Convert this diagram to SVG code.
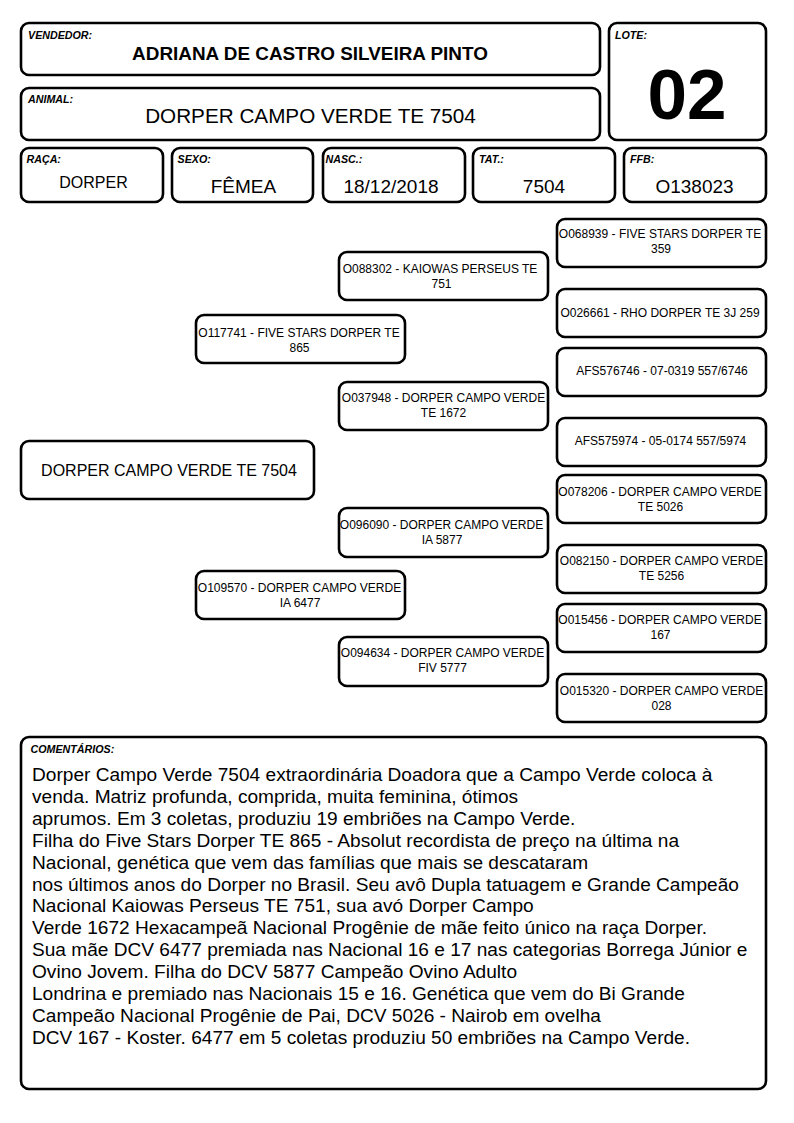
<svg xmlns="http://www.w3.org/2000/svg" width="794" height="1123" viewBox="0 0 794 1123">
<style>
.box{fill:#fff;stroke:#000;stroke-width:2.6}
text{font-family:"Liberation Sans",Arial,sans-serif;fill:#000}
.lbl{font-size:10.7px;font-weight:bold;font-style:italic}
.val{font-size:19px;text-anchor:middle}
.ped{font-size:12px;text-anchor:middle}
.com{font-size:19.1px}
</style>
<rect width="794" height="1123" fill="#fff"/>
<g id="vendedor">
<rect class="box" x="21" y="23" width="579" height="52" rx="8"/>
<text class="lbl" x="28" y="39">VENDEDOR:</text>
<text x="310" y="60" font-size="18.9" font-weight="bold" text-anchor="middle">ADRIANA DE CASTRO SILVEIRA PINTO</text>
</g>
<g id="lote">
<rect class="box" x="609" y="23" width="157" height="117" rx="8"/>
<text class="lbl" x="615" y="39">LOTE:</text>
<text x="687" y="119" font-size="71" font-weight="bold" text-anchor="middle">02</text>
</g>
<g id="animal">
<rect class="box" x="21" y="88" width="579" height="52" rx="8"/>
<text class="lbl" x="28" y="103">ANIMAL:</text>
<text x="310.5" y="123" font-size="20.7" text-anchor="middle">DORPER CAMPO VERDE TE 7504</text>
</g>
<g id="raca">
<rect class="box" x="21" y="148" width="142" height="54" rx="8"/>
<text class="lbl" x="26.5" y="163">RAÇA:</text>
<text x="93.5" y="188" font-size="16" text-anchor="middle">DORPER</text>
</g>
<g id="sexo">
<rect class="box" x="172" y="148" width="141" height="54" rx="8"/>
<text class="lbl" x="177.5" y="163">SEXO:</text>
<text class="val" x="243.5" y="192.5">FÊMEA</text>
</g>
<g id="nasc">
<rect class="box" x="323" y="148" width="142" height="54" rx="8"/>
<text class="lbl" x="325.5" y="163">NASC.:</text>
<text class="val" x="391" y="192.5">18/12/2018</text>
</g>
<g id="tat">
<rect class="box" x="473" y="148" width="142" height="54" rx="8"/>
<text class="lbl" x="479" y="163">TAT.:</text>
<text class="val" x="544" y="192.5">7504</text>
</g>
<g id="ffb">
<rect class="box" x="624" y="148" width="142" height="54" rx="8"/>
<text class="lbl" x="630" y="163">FFB:</text>
<text class="val" x="694.5" y="192.5">O138023</text>
</g>
<g id="connectors"></g>
<g id="animal-main">
<rect class="box" x="21" y="441" width="293" height="58" rx="8"/>
<text x="169" y="476" font-size="16" text-anchor="middle">DORPER CAMPO VERDE TE 7504</text>
</g>
<g id="pai">
<rect class="box" x="196" y="315" width="209" height="48" rx="8"/>
<text class="ped" x="299" y="336.7">O117741 - FIVE STARS DORPER TE</text>
<text class="ped" x="299.5" y="351.7">865</text>
</g>
<g id="mae">
<rect class="box" x="196" y="571" width="209" height="48" rx="8"/>
<text class="ped" x="299.5" y="591.7">O109570 - DORPER CAMPO VERDE</text>
<text class="ped" x="300" y="606.7">IA 6477</text>
</g>
<g id="avo-pp">
<rect class="box" x="339" y="252" width="209" height="48" rx="8"/>
<text class="ped" x="440" y="272.7">O088302 - KAIOWAS PERSEUS TE</text>
<text class="ped" x="441.5" y="287.7">751</text>
</g>
<g id="avo-pm">
<rect class="box" x="339" y="382" width="209" height="48" rx="8"/>
<text class="ped" x="443.5" y="402.3">O037948 - DORPER CAMPO VERDE</text>
<text class="ped" x="443.5" y="416.7">TE 1672</text>
</g>
<g id="avo-mp">
<rect class="box" x="339" y="508" width="209" height="49" rx="8"/>
<text class="ped" x="441.5" y="529">O096090 - DORPER CAMPO VERDE</text>
<text class="ped" x="442" y="544">IA 5877</text>
</g>
<g id="avo-mm">
<rect class="box" x="339" y="637" width="209" height="49" rx="8"/>
<text class="ped" x="442.5" y="657.3">O094634 - DORPER CAMPO VERDE</text>
<text class="ped" x="442.5" y="671.7">FIV 5777</text>
</g>
<g id="bis-1">
<rect class="box" x="557" y="219" width="209" height="48" rx="8"/>
<text class="ped" x="660" y="238.3">O068939 - FIVE STARS DORPER TE</text>
<text class="ped" x="661" y="253.3">359</text>
</g>
<g id="bis-2">
<rect class="box" x="557" y="289" width="209" height="48" rx="8"/>
<text class="ped" x="660" y="316.7">O026661 - RHO DORPER TE 3J 259</text>
</g>
<g id="bis-3">
<rect class="box" x="557" y="348" width="209" height="48" rx="8"/>
<text class="ped" x="662" y="375">AFS576746 - 07-0319 557/6746</text>
</g>
<g id="bis-4">
<rect class="box" x="557" y="418" width="209" height="48" rx="8"/>
<text class="ped" x="660.5" y="445">AFS575974 - 05-0174 557/5974</text>
</g>
<g id="bis-5">
<rect class="box" x="557" y="475" width="209" height="48" rx="8"/>
<text class="ped" x="660" y="495.7">O078206 - DORPER CAMPO VERDE</text>
<text class="ped" x="660.5" y="510.7">TE 5026</text>
</g>
<g id="bis-6">
<rect class="box" x="557" y="545" width="209" height="48" rx="8"/>
<text class="ped" x="661.5" y="565">O082150 - DORPER CAMPO VERDE</text>
<text class="ped" x="661.5" y="580">TE 5256</text>
</g>
<g id="bis-7">
<rect class="box" x="557" y="604" width="209" height="48" rx="8"/>
<text class="ped" x="660" y="624">O015456 - DORPER CAMPO VERDE</text>
<text class="ped" x="660.5" y="639">167</text>
</g>
<g id="bis-8">
<rect class="box" x="557" y="674" width="209" height="48" rx="8"/>
<text class="ped" x="661.5" y="695">O015320 - DORPER CAMPO VERDE</text>
<text class="ped" x="661.5" y="710">028</text>
</g>
<g id="comentarios">
<rect class="box" x="21" y="737" width="745" height="352" rx="8"/>
<text class="lbl" x="30.5" y="752.5">COMENTÁRIOS:</text>
<text class="com" x="32" y="781">Dorper Campo Verde 7504 extraordinária Doadora que a Campo Verde coloca à</text>
<text class="com" x="32" y="802.9">venda. Matriz profunda, comprida, muita feminina, ótimos</text>
<text class="com" x="32" y="824.8">aprumos. Em 3 coletas, produziu 19 embriões na Campo Verde.</text>
<text class="com" x="32" y="846.7">Filha do Five Stars Dorper TE 865 - Absolut recordista de preço na última na</text>
<text class="com" x="32" y="868.6">Nacional, genética que vem das famílias que mais se descataram</text>
<text class="com" x="32" y="890.5">nos últimos anos do Dorper no Brasil. Seu avô Dupla tatuagem e Grande Campeão</text>
<text class="com" x="32" y="912.4">Nacional Kaiowas Perseus TE 751, sua avó Dorper Campo</text>
<text class="com" x="32" y="934.3">Verde 1672 Hexacampeã Nacional Progênie de mãe feito único na raça Dorper.</text>
<text class="com" x="32" y="956.2">Sua mãe DCV 6477 premiada nas Nacional 16 e 17 nas categorias Borrega Júnior e</text>
<text class="com" x="32" y="978.1">Ovino Jovem. Filha do DCV 5877 Campeão Ovino Adulto</text>
<text class="com" x="32" y="1000">Londrina e premiado nas Nacionais 15 e 16. Genética que vem do Bi Grande</text>
<text class="com" x="32" y="1021.9">Campeão Nacional Progênie de Pai, DCV 5026 - Nairob em ovelha</text>
<text class="com" x="32" y="1043.8">DCV 167 - Koster. 6477 em 5 coletas produziu 50 embriões na Campo Verde.</text>
</g>
</svg>
